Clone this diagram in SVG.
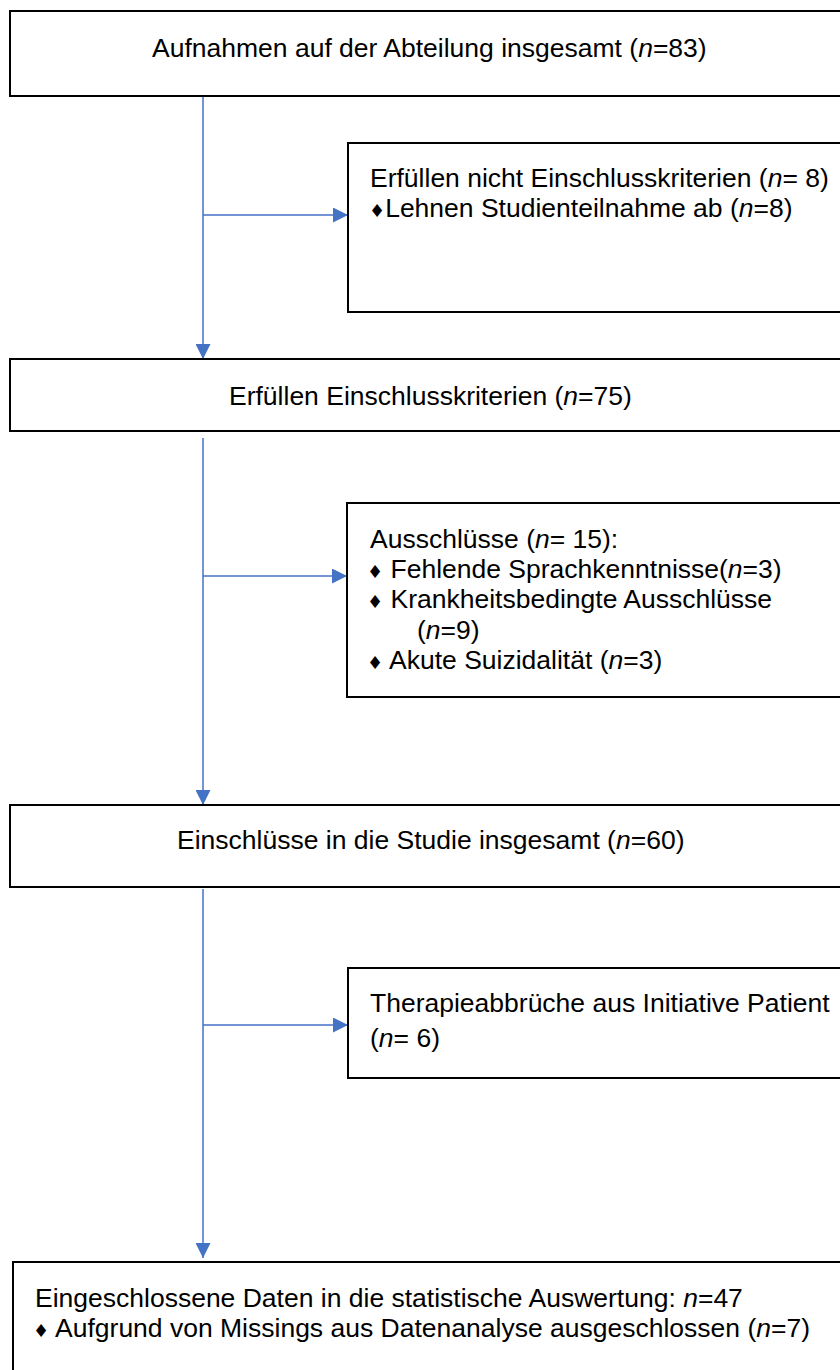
<svg xmlns="http://www.w3.org/2000/svg" width="840" height="1370" viewBox="0 0 840 1370">
<style>
.box{fill:#fff;stroke:#000;stroke-width:2}
.t{font-family:"Liberation Sans",Arial,sans-serif;font-size:26.5px;fill:#000}
.b{font-family:"DejaVu Sans",sans-serif;font-size:18px}
.c{stroke:#4472C4;stroke-width:1.5;fill:none}
</style>
<defs>
<marker id="ah" markerUnits="userSpaceOnUse" markerWidth="15" markerHeight="15" refX="15" refY="7.5" orient="auto">
<path d="M0,0 L15,7.5 L0,15 Z" fill="#4472C4"/>
</marker>
</defs>
<rect width="840" height="1370" fill="#fff"/>
<g id="connectors">
<line class="c" x1="203" y1="96" x2="203" y2="359" marker-end="url(#ah)"/>
<line class="c" x1="203" y1="215" x2="348" y2="215" marker-end="url(#ah)"/>
<line class="c" x1="203" y1="438" x2="203" y2="805" marker-end="url(#ah)"/>
<line class="c" x1="203" y1="576" x2="347" y2="576" marker-end="url(#ah)"/>
<line class="c" x1="203" y1="889" x2="203" y2="1258" marker-end="url(#ah)"/>
<line class="c" x1="203" y1="1025" x2="348" y2="1025" marker-end="url(#ah)"/>
</g>
<g id="n1">
<rect class="box" x="10" y="11" width="850" height="85"/>
<text class="t" x="152" y="57">Aufnahmen auf der Abteilung insgesamt (<tspan font-style="italic">n</tspan>=83)</text>
</g>
<g id="n2">
<rect class="box" x="348" y="143" width="510" height="169"/>
<text class="t" x="370" y="187">Erfüllen nicht Einschlusskriterien (<tspan font-style="italic">n</tspan>= 8)</text>
<text class="t" x="369" y="217"><tspan class="b">♦</tspan>Lehnen Studienteilnahme ab (<tspan font-style="italic">n</tspan>=8)</text>
</g>
<g id="n3">
<rect class="box" x="10" y="359" width="850" height="72"/>
<text class="t" x="229" y="405">Erfüllen Einschlusskriterien (<tspan font-style="italic">n</tspan>=75)</text>
</g>
<g id="n4">
<rect class="box" x="347" y="503" width="510" height="194"/>
<text class="t" x="370" y="548">Ausschlüsse (<tspan font-style="italic">n</tspan>= 15):</text>
<text class="t" x="367" y="578"><tspan class="b">♦</tspan> Fehlende Sprachkenntnisse(<tspan font-style="italic">n</tspan>=3)</text>
<text class="t" x="367" y="608"><tspan class="b">♦</tspan> Krankheitsbedingte Ausschlüsse</text>
<text class="t" x="417" y="639">(<tspan font-style="italic">n</tspan>=9)</text>
<text class="t" x="367" y="669"><tspan class="b">♦</tspan> Akute Suizidalität (<tspan font-style="italic">n</tspan>=3)</text>
</g>
<g id="n5">
<rect class="box" x="10" y="805" width="850" height="82"/>
<text class="t" x="177" y="849">Einschlüsse in die Studie insgesamt (<tspan font-style="italic">n</tspan>=60)</text>
</g>
<g id="n6">
<rect class="box" x="348" y="968" width="510" height="110"/>
<text class="t" x="370" y="1012">Therapieabbrüche aus Initiative Patient</text>
<text class="t" x="370" y="1047">(<tspan font-style="italic">n</tspan>= 6)</text>
</g>
<g id="n7">
<rect class="box" x="13" y="1262" width="850" height="130"/>
<text class="t" x="35" y="1307">Eingeschlossene Daten in die statistische Auswertung: <tspan font-style="italic">n</tspan>=47</text>
<text class="t" x="33" y="1337"><tspan class="b">♦</tspan> Aufgrund von Missings aus Datenanalyse ausgeschlossen (<tspan font-style="italic">n</tspan>=7)</text>
</g>
</svg>
